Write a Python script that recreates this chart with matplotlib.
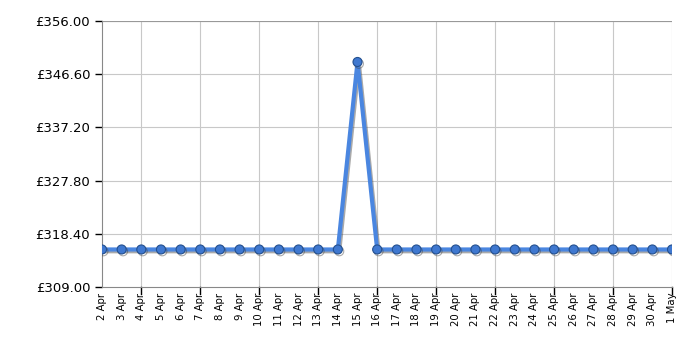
import matplotlib
matplotlib.use("Agg")
import matplotlib.pyplot as plt
import matplotlib.patheffects as pe
import numpy as np

dates = ["2 Apr", "3 Apr", "4 Apr", "5 Apr", "6 Apr", "7 Apr", "8 Apr", "9 Apr",
         "10 Apr", "11 Apr", "12 Apr", "13 Apr", "14 Apr", "15 Apr", "16 Apr",
         "17 Apr", "18 Apr", "19 Apr", "20 Apr", "21 Apr", "22 Apr", "23 Apr",
         "24 Apr", "25 Apr", "26 Apr", "27 Apr", "28 Apr", "29 Apr", "30 Apr", "1 May"]
prices = [315.63] * 13 + [348.76] + [315.63] * 16
yticks = [309.0, 318.4, 327.8, 337.2, 346.6, 356.0]

x = np.arange(len(dates))

fig = plt.figure(figsize=(7, 3.5), dpi=100, facecolor='white')
ax = fig.add_axes([0.1457, 0.18, 0.8143, 0.76])

shadow = [pe.SimpleLineShadow(offset=(1, -1.3), shadow_color='#444444', alpha=0.45), pe.Normal()]
ax.plot(x, prices, color='#4a86e0', linewidth=3, marker='o', markersize=6.5,
        markerfacecolor='#3f78d0', markeredgecolor='#24508f', markeredgewidth=0.8,
        path_effects=shadow, zorder=3)

ax.set_xlim(0, len(dates) - 1)
ax.set_ylim(309, 356)
ax.set_yticks(yticks)
ax.set_yticklabels(["£%.2f" % v for v in yticks], fontsize=9.5)

major = list(range(2, len(dates), 3))
ax.set_xticks(x)
ax.set_xticklabels(dates, rotation=90, fontsize=7.3)
ax.tick_params(axis='x', length=0, pad=4)
ax.tick_params(axis='y', length=5, width=1, direction='out')
for m in major:
    ax.plot([m, m], [0, -0.025], transform=ax.get_xaxis_transform(), color='black',
            lw=1, clip_on=False)

ax.grid(False)
for v in yticks[1:]:
    ax.axhline(v, color='#c8c8c8', lw=0.8, zorder=0)
for m in major:
    ax.axvline(m, color='#c8c8c8', lw=0.8, zorder=0)

for s in ['top', 'right']:
    ax.spines[s].set_visible(False)
ax.spines['left'].set_color('#888888')
ax.spines['bottom'].set_color('#888888')
ax.axhline(356, color='#999999', lw=0.8, zorder=0)

fig.savefig('out.png', dpi=100, facecolor='white')
